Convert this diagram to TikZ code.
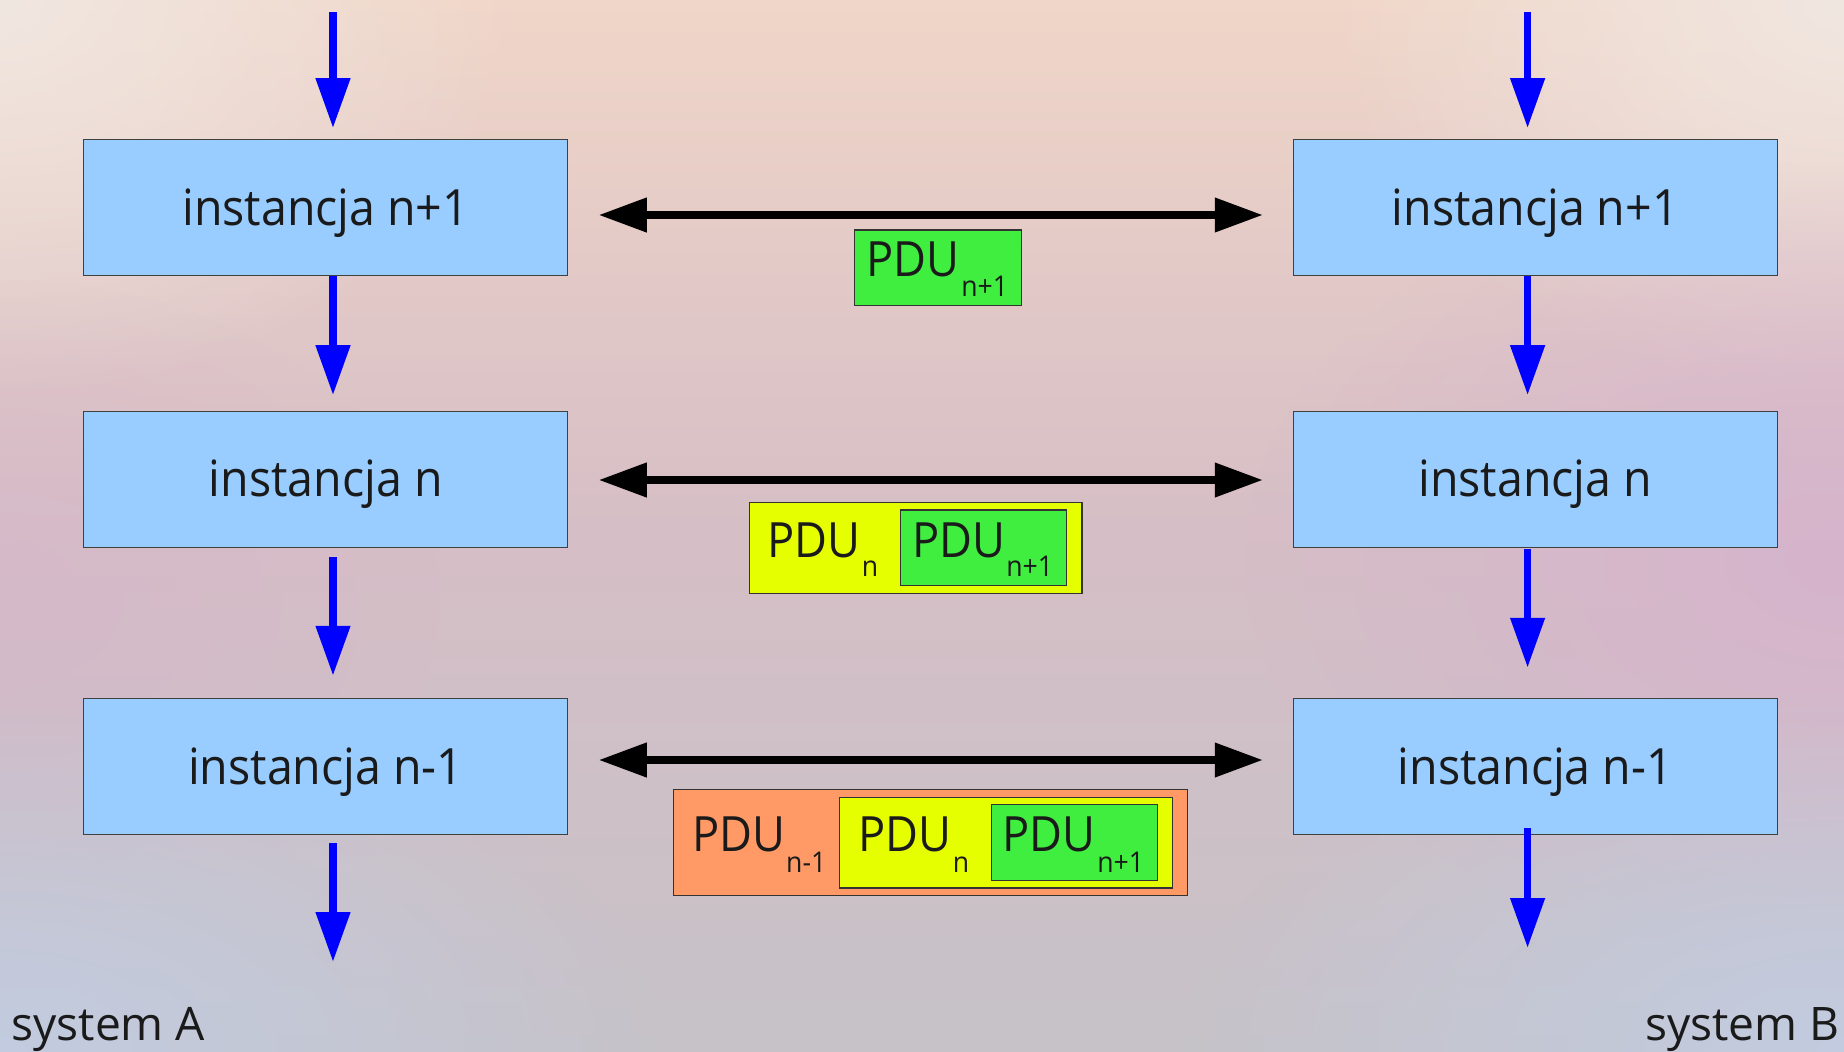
\documentclass[tikz,border=0pt]{standalone}
\usepackage{fontspec}
\setmainfont{Open Sans}[FakeStretch=0.93]
\newfontfamily\labelfont{Open Sans}
\usetikzlibrary{arrows.meta,fadings,fit}

\definecolor{bgtop}{RGB}{240,214,200}
\definecolor{bgmid}{RGB}{214,190,198}
\definecolor{bgbot}{RGB}{198,194,200}
\definecolor{bgcorner}{RGB}{241,231,225}
\definecolor{bgblue}{RGB}{194,204,224}
\definecolor{bgpink}{RGB}{214,180,204}
\definecolor{layerblue}{RGB}{153,204,255}
\definecolor{flowblue}{RGB}{0,0,255}
\definecolor{pdugreen}{RGB}{64,238,64}
\definecolor{pduyellow}{RGB}{230,255,0}
\definecolor{pduorange}{RGB}{255,153,102}
\definecolor{inkdark}{RGB}{26,26,26}

\tikzfading[name=softspot, inner color=transparent!0, outer color=transparent!100]

\tikzset{
  layer/.style={draw=black!75, line width=0.6pt, fill=layerblue, text=inkdark,
    minimum width=242pt, minimum height=68pt, inner sep=0pt,
    text height=25pt, text depth=7.75pt,
    font=\fontsize{25pt}{30pt}\selectfont},
  flowarrow/.style={draw=flowblue, line width=3.85pt,
    -{Triangle[length=25pt,width=16.5pt]}},
  peerarrow/.style={draw=black, line width=3.65pt,
    {Triangle[length=24pt,width=16.5pt]}-{Triangle[length=24pt,width=16.5pt]}},
  pdubox/.style={draw=black!80, line width=0.6pt, inner sep=0pt},
  pdutext/.style={anchor=base west, inner sep=0pt, text=inkdark,
    font=\fontsize{24.3pt}{29pt}\selectfont},
  subtext/.style={anchor=base west, inner sep=0pt, text=inkdark,
    font=\fontsize{14.3pt}{17pt}\selectfont},
  systext/.style={inner sep=0pt, text=inkdark,
    font=\labelfont\fontsize{23.1pt}{27pt}\selectfont},
}

\begin{document}
\begin{tikzpicture}[x=0.5pt,y=-0.5pt]
\useasboundingbox (0,0) rectangle (1844,1051);

% soft background
\shade[top color=bgtop, bottom color=bgbot, middle color=bgmid] (0,0) rectangle (1844,1051);
\begin{scope}
  \clip (0,0) rectangle (1844,1051);
  \fill[bgcorner, path fading=softspot] (0,0) ellipse (260pt and 200pt);
  \fill[bgcorner, path fading=softspot] (1844,0) ellipse (260pt and 200pt);
  \fill[bgpink, path fading=softspot] (1844,560) ellipse (300pt and 200pt);
  \fill[bgpink, path fading=softspot, opacity=0.5] (0,600) ellipse (220pt and 160pt);
  \fill[bgblue, path fading=softspot] (0,1051) ellipse (330pt and 180pt);
  \fill[bgblue, path fading=softspot] (1844,1051) ellipse (330pt and 180pt);
\end{scope}

% protocol instances of both systems
\node[layer] (A3) at (325.75,207.75) {instancja n+1};
\node[layer] (A2) at (325.75,479.4)  {instancja n};
\node[layer] (A1) at (325.75,766.75) {instancja n-1};
\node[layer] (B3) at (1535.3,207.75) {instancja n+1};
\node[layer] (B2) at (1535.3,479.4)  {instancja n};
\node[layer] (B1) at (1535.3,766.75) {instancja n-1};

% vertical data flow
\coordinate (inA)  at (333,12);
\coordinate (outA) at (333,962);
\coordinate (inB)  at (1527.6,12);
\coordinate (outB) at (1527.6,948);

\draw[flowarrow, shorten >=5.5pt] (inA) -- (A3.north -| inA);
\draw[flowarrow, shorten >=7.8pt] (A3.south -| inA) -- (A2.north -| inA);
\draw[flowarrow, shorten <=4.5pt, shorten >=11.2pt] (A2.south -| inA) -- (A1.north -| inA);
\draw[flowarrow, shorten <=4pt] (A1.south -| inA) -- (outA);

\draw[flowarrow, shorten >=5.5pt] (inB) -- (B3.north -| inB);
\draw[flowarrow, shorten >=7.8pt] (B3.south -| inB) -- (B2.north -| inB);
\draw[flowarrow, shorten <=0.5pt, shorten >=15.2pt] (B2.south -| inB) -- (B1.north -| inB);
\draw[flowarrow, shorten <=-3.5pt] (B1.south -| inB) -- (outB);

% peer-to-peer exchange
\coordinate (p3) at (1262.8,215);
\coordinate (p2) at (1262.8,480);
\coordinate (p1) at (1262.8,760);
\draw[peerarrow, shorten <=15.2pt] (A3.east |- p3) -- (p3);
\draw[peerarrow, shorten <=15.2pt] (A2.east |- p2) -- (p2);
\draw[peerarrow, shorten <=15.2pt] (A1.east |- p1) -- (p1);

% encapsulated PDUs
\node[pdubox, fill=pdugreen, fit={(854.6,230) (1021.7,305.7)}] (g3) {};
\node[pdutext] (g3t) at (866,276.7) {PDU};
\node[subtext] (g3s) at (961,296.7) {n+1};

\node[pdubox, fill=pduyellow, fit={(749.3,502.3) (1082,593.3)}] (y2) {};
\node[pdubox, fill=pdugreen, fit={(900.3,510) (1066.6,585.7)}] (g2) {};
\node[pdutext] (y2t) at (767,557.3) {PDU};
\node[subtext] (y2s) at (861.5,576.7) {n};
\node[pdutext] (g2t) at (912.3,557.3) {PDU};
\node[subtext] (g2s) at (1006,576.7) {n+1};

\node[pdubox, fill=pduorange, fit={(673.2,789.7) (1187.6,895.3)}] (o1) {};
\node[pdubox, fill=pduyellow, fit={(839.6,797.3) (1172.3,888)}] (y1) {};
\node[pdubox, fill=pdugreen, fit={(991.3,804.3) (1157.3,880.3)}] (g1) {};
\node[pdutext] (o1t) at (691.7,851.7) {PDU};
\node[subtext] (o1s) at (785.8,872) {n-1};
\node[pdutext] (y1t) at (858,851.7) {PDU};
\node[subtext] (y1s) at (952.5,872) {n};
\node[pdutext] (g1t) at (1002.3,851.7) {PDU};
\node[subtext] (g1s) at (1097,872) {n+1};

% system names
\node[systext, anchor=base west] (sysA) at (11,1040) {system A};
\node[systext, anchor=base east] (sysB) at (1840,1040) {system B};
\end{tikzpicture}
\end{document}
